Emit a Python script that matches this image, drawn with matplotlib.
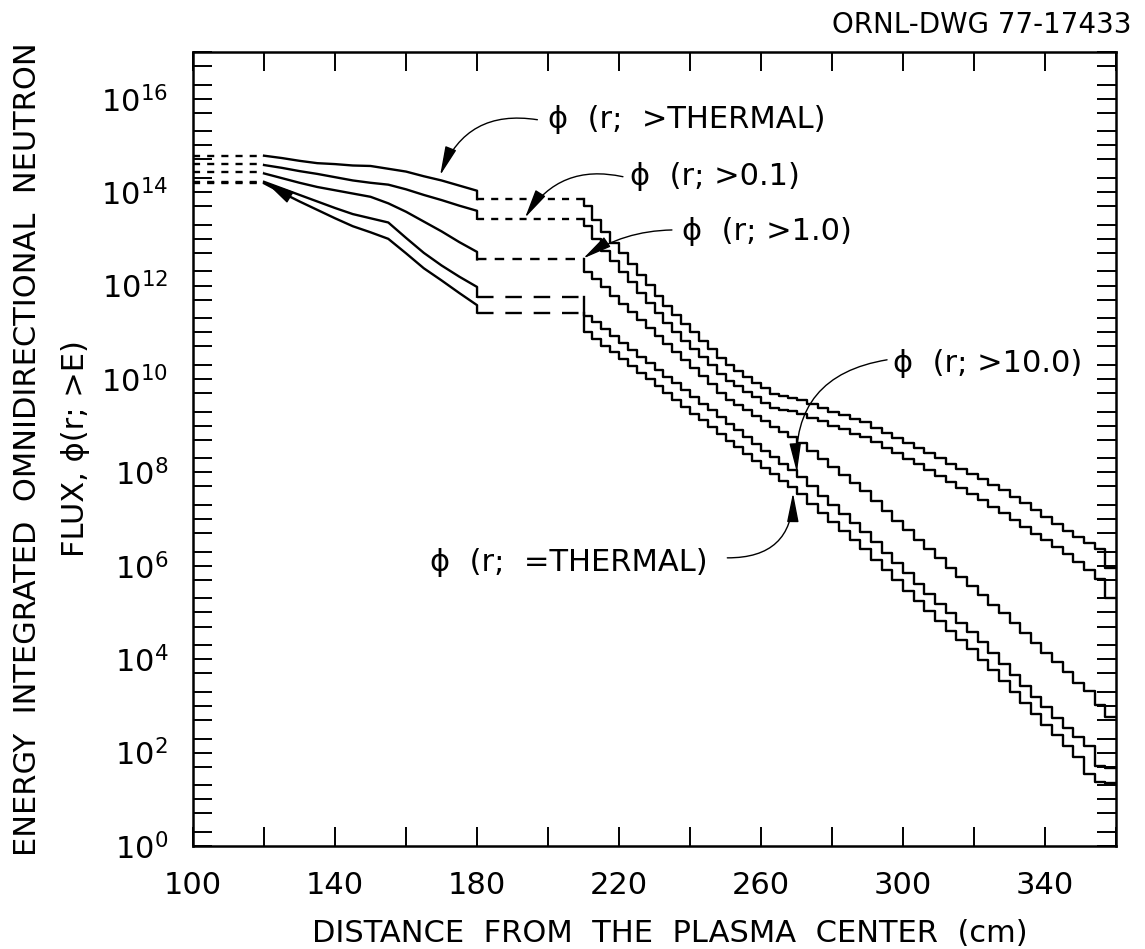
import numpy as np
import matplotlib
matplotlib.use("Agg")
import matplotlib.pyplot as plt
from matplotlib.ticker import FixedLocator, LogLocator, NullFormatter

# ----- radial mesh (cm) -----
R_PLASMA  = [100, 120]
R_BLANKET = [120, 125, 130, 135, 140, 145, 150, 155, 160, 165, 170, 175, 180]
R_GAP     = [180, 210]
R_SHIELD  = [210, 212.5, 215, 217.5, 220, 222.5, 225, 227.5, 230, 232.5, 235,
             237.5, 240, 242.5, 245, 247.5, 250, 252.5, 255, 257.5, 260, 262.5,
             265, 267.5, 270, 273, 276, 279, 282, 285, 288, 291, 294, 297, 300,
             303, 306, 309, 312, 315, 318, 321, 324, 327, 330, 333, 336, 339,
             342, 345, 348, 351, 354, 357, 360]

# ----- log10 of flux -----
# blanket values are at the R_BLANKET points, shield values are per mesh interval

# phi(r; >THERMAL)
GT_THERMAL_PLASMA  = 14.78
GT_THERMAL_BLANKET = [14.78, 14.73, 14.67, 14.62, 14.60, 14.57, 14.56, 14.50, 14.44, 14.34, 14.25, 14.14, 14.03]
GT_THERMAL_GAP     = 13.85
GT_THERMAL_SHIELD  = [13.70, 13.41, 13.15, 12.92, 12.69, 12.46, 12.23, 12.01, 11.78, 11.56, 11.36, 11.18,
                      11.00, 10.82, 10.64, 10.45, 10.29, 10.17, 10.04, 9.92, 9.80, 9.68, 9.64, 9.60,
                      9.54, 9.46, 9.38, 9.30, 9.23, 9.15, 9.07, 8.96, 8.85, 8.74, 8.63, 8.52, 8.41, 8.30,
                      8.18, 8.07, 7.96, 7.85, 7.74, 7.62, 7.48, 7.34, 7.19, 7.04, 6.90, 6.75, 6.62, 6.49,
                      6.36, 5.95]

# phi(r; >0.1)
GT_01_PLASMA  = 14.60
GT_01_BLANKET = [14.58, 14.52, 14.45, 14.39, 14.32, 14.25, 14.20, 14.16, 14.06, 13.94, 13.83, 13.71, 13.60]
GT_01_GAP     = 13.43
GT_01_SHIELD  = [13.28, 13.00, 12.74, 12.52, 12.29, 12.07, 11.85, 11.63, 11.41, 11.19, 11.00, 10.82,
                 10.65, 10.47, 10.30, 10.11, 9.96, 9.85, 9.72, 9.61, 9.49, 9.38, 9.34, 9.31,
                 9.26, 9.17, 9.09, 9.00, 8.92, 8.83, 8.75, 8.64, 8.52, 8.41, 8.29, 8.17, 8.05, 7.93,
                 7.79, 7.66, 7.53, 7.40, 7.26, 7.13, 6.98, 6.84, 6.69, 6.55, 6.40, 6.25, 6.08, 5.90,
                 5.72, 5.31]

# phi(r; >1.0)
GT_1_PLASMA  = 14.44
GT_1_BLANKET = [14.40, 14.30, 14.20, 14.11, 14.04, 13.97, 13.90, 13.76, 13.58, 13.37, 13.16, 12.93, 12.72]
GT_1_GAP     = 12.56
GT_1_SHIELD  = [12.30, 12.13, 11.96, 11.78, 11.61, 11.44, 11.27, 11.09, 10.92, 10.75, 10.58, 10.40,
                10.23, 10.06, 9.89, 9.71, 9.56, 9.45, 9.33, 9.21, 9.10, 8.98, 8.86, 8.76,
                8.62, 8.45, 8.28, 8.11, 7.94, 7.77, 7.60, 7.38, 7.17, 6.96, 6.76, 6.55, 6.35, 6.16,
                5.96, 5.77, 5.57, 5.37, 5.17, 4.98, 4.77, 4.56, 4.35, 4.14, 3.93, 3.72, 3.50, 3.32,
                3.02, 2.76]

# phi(r; >10.0)
GT_10_PLASMA  = 14.22
GT_10_BLANKET = [14.22, 14.08, 13.94, 13.80, 13.66, 13.53, 13.44, 13.35, 13.02, 12.70, 12.43, 12.19, 11.97]
GT_10_GAP     = 11.76
GT_10_SHIELD  = [11.35, 11.21, 11.06, 10.92, 10.77, 10.63, 10.48, 10.34, 10.20, 10.05, 9.91, 9.76,
                 9.62, 9.47, 9.33, 9.19, 9.04, 8.90, 8.75, 8.61, 8.46, 8.32, 8.17, 8.05,
                 7.90, 7.70, 7.50, 7.31, 7.11, 6.92, 6.72, 6.50, 6.28, 6.06, 5.84, 5.62, 5.40, 5.19,
                 4.98, 4.78, 4.58, 4.36, 4.13, 3.90, 3.66, 3.43, 3.20, 2.97, 2.74, 2.52, 2.33, 2.15,
                 1.72, 1.68]

# phi(r; =THERMAL)
TH_PLASMA  = 14.20
TH_BLANKET = [14.19, 13.99, 13.80, 13.62, 13.44, 13.27, 13.14, 13.00, 12.69, 12.37, 12.11, 11.84, 11.58]
TH_GAP     = 11.42
TH_SHIELD  = [11.00, 10.86, 10.71, 10.57, 10.42, 10.28, 10.13, 9.99, 9.84, 9.70, 9.55, 9.41,
              9.26, 9.12, 8.97, 8.83, 8.68, 8.54, 8.39, 8.25, 8.10, 7.96, 7.81, 7.68,
              7.53, 7.33, 7.13, 6.94, 6.74, 6.55, 6.35, 6.13, 5.91, 5.69, 5.47, 5.25, 5.03, 4.82,
              4.61, 4.41, 4.21, 3.99, 3.76, 3.53, 3.29, 3.06, 2.83, 2.60, 2.37, 2.15, 1.90, 1.55,
              1.37, 1.35]

X_TICKS  = [100, 120, 140, 160, 180, 200, 220, 240, 260, 280, 300, 320, 340, 360]
X_LABELS = ["100", "", "140", "", "180", "", "220", "", "260", "", "300", "", "340", ""]
Y_EXPONENTS = list(range(0, 18))

LW = 1.7
FS = 22
PHI = "\u03d5"


def pw(v):
    return 10.0 ** np.asarray(v, dtype=float)


def draw_curve(ax, plasma, blanket, gap, shield, gap_dash):
    # plasma region (dashed)
    ax.plot(R_PLASMA, pw([plasma, plasma]), color="black", lw=LW, ls=(0, (3, 3)))
    # first wall / blanket, then the drop into the gap at 180 cm
    xb = R_BLANKET + [R_BLANKET[-1]]
    yb = blanket + [gap]
    ax.plot(xb, pw(yb), color="black", lw=LW)
    # gap (dashed)
    ax.plot(R_GAP, pw([gap, gap]), color="black", lw=LW, ls=gap_dash)
    # shield, stepped per mesh interval
    xs = [R_SHIELD[0]] + R_SHIELD
    ys = [gap] + shield + [shield[-1]]
    ax.step(xs, pw(ys), where="post", color="black", lw=LW)


fig = plt.figure(figsize=(11.45, 9.49), dpi=100)
ax = fig.add_axes([0.1686, 0.1085, 0.8061, 0.8367])

draw_curve(ax, GT_THERMAL_PLASMA, GT_THERMAL_BLANKET, GT_THERMAL_GAP, GT_THERMAL_SHIELD, (0, (3, 3)))
draw_curve(ax, GT_01_PLASMA, GT_01_BLANKET, GT_01_GAP, GT_01_SHIELD, (0, (3, 3)))
draw_curve(ax, GT_1_PLASMA, GT_1_BLANKET, GT_1_GAP, GT_1_SHIELD, (0, (4, 3.5)))
draw_curve(ax, GT_10_PLASMA, GT_10_BLANKET, GT_10_GAP, GT_10_SHIELD, (0, (7, 5)))
draw_curve(ax, TH_PLASMA, TH_BLANKET, TH_GAP, TH_SHIELD, (0, (7, 5)))

ax.set_yscale("log")
ax.set_xlim(100, 360)
ax.set_ylim(1, 1e17)

ax.xaxis.set_major_locator(FixedLocator(X_TICKS))
ax.set_xticklabels(X_LABELS)
ax.yaxis.set_major_locator(FixedLocator([10.0 ** k for k in Y_EXPONENTS]))
ax.set_yticklabels([r"$\mathregular{10^{%d}}$" % k if k % 2 == 0 else "" for k in Y_EXPONENTS])
ax.yaxis.set_minor_locator(LogLocator(base=10, subs=(2, 5), numticks=100))
ax.yaxis.set_minor_formatter(NullFormatter())

ax.tick_params(axis="both", which="both", direction="in", top=True, right=True,
               length=14, width=1.4, labelsize=FS, pad=18)
for sp in ax.spines.values():
    sp.set_linewidth(1.8)

# ----- curve labels -----
arrow_kw = dict(arrowstyle="-|>,head_length=0.9,head_width=0.18", color="black",
                lw=1.0, shrinkA=0, shrinkB=0, mutation_scale=20)

ax.text(200.0, pw(15.55), PHI + "  (r;  >THERMAL)", fontsize=FS, va="center", ha="left")
ax.annotate("", xy=(169.6, pw(14.36)), xytext=(197.0, pw(15.55)),
            arrowprops=dict(connectionstyle="arc3,rad=0.4", **arrow_kw))

ax.text(223.1, pw(14.33), PHI + "  (r; >0.1)", fontsize=FS, va="center", ha="left")
ax.annotate("", xy=(193.5, pw(13.45)), xytext=(221.1, pw(14.33)),
            arrowprops=dict(connectionstyle="arc3,rad=0.35", **arrow_kw))

ax.text(237.8, pw(13.15), PHI + "  (r; >1.0)", fontsize=FS, va="center", ha="left")
ax.annotate("", xy=(209.9, pw(12.58)), xytext=(234.9, pw(13.19)),
            arrowprops=dict(connectionstyle="arc3,rad=0.15", **arrow_kw))

ax.text(297.2, pw(10.34), PHI + "  (r; >10.0)", fontsize=FS, va="center", ha="left")
ax.annotate("", xy=(270.1, pw(8.0)), xytext=(295.5, pw(10.41)),
            arrowprops=dict(connectionstyle="arc3,rad=0.45", **arrow_kw))

ax.text(166.8, pw(6.06), PHI + "  (r;  =THERMAL)", fontsize=FS, va="center", ha="left")
ax.annotate("", xy=(269.0, pw(7.56)), xytext=(250.5, pw(6.17)),
            arrowprops=dict(connectionstyle="arc3,rad=0.5", **arrow_kw))

# small arrowhead where the two lower curves branch
ax.annotate("", xy=(120.5, pw(14.21)), xytext=(125.0, pw(14.0)),
            arrowprops=dict(arrowstyle="-|>,head_length=0.9,head_width=0.2", color="black",
                            lw=1.0, shrinkA=0, shrinkB=0, mutation_scale=20))

# ----- axis titles -----
fig.text(670 / 1145, 1 - 933 / 949, "DISTANCE  FROM  THE  PLASMA  CENTER  (cm)",
         fontsize=FS, ha="center", va="center")
fig.text(28 / 1145, 1 - 449 / 949, "ENERGY  INTEGRATED  OMNIDIRECTIONAL  NEUTRON",
         fontsize=FS, ha="center", va="center", rotation=90)
fig.text(75 / 1145, 1 - 449 / 949, "FLUX, " + PHI + "(r; >E)",
         fontsize=FS, ha="center", va="center", rotation=90)
fig.text(1132 / 1145, 1 - 25 / 949, "ORNL-DWG 77-17433", fontsize=20, ha="right", va="center")

fig.savefig("out.png", dpi=100)
